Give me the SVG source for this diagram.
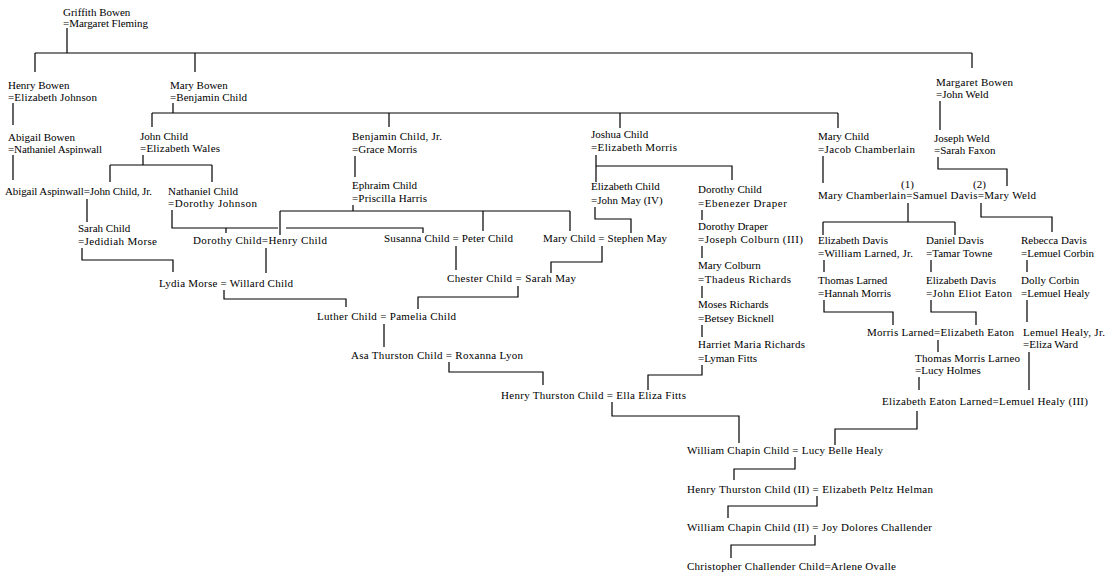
<svg xmlns="http://www.w3.org/2000/svg" width="1115" height="580" viewBox="0 0 1115 580">
<style>
text{font-family:"Liberation Serif","Times New Roman",serif;font-size:11px;fill:#000}
.c path{fill:none;stroke:#000;stroke-width:1.2}
</style>
<rect width="1115" height="580" fill="#fff"/>
<g class="c" id="connectors">
<path d="M67,28V53M35,53H972M35,53V72M195,53V72M972,53V68"/>
<path d="M13,103V125M13,155V180M87,199V222M82,248V260H173V272M224,290V299H346V307"/>
<path d="M173,103V113M152,113H838M152,113V127M389,113V127M620,113V128M838,113V128"/>
<path d="M143,155V165M110,165H212M110,165V182M212,165V182"/>
<path d="M172,210V228H278M286,228H423V233M226,228V233"/>
<path d="M355,156V177M353,205V211M280,211H570M280,211V235M483,211V231M570,211V231"/>
<path d="M266,248V273M456,246V270M602,246V262H551V273M518,286V297H418V309"/>
<path d="M384,324V347M449,362V372H543V385M612,402V416H739V443M702,365V375H648V390"/>
<path d="M596,155V182M596,166H732V180M595,207V219H631V233"/>
<path d="M702,210V220M702,246V258M702,286V298M702,325V337"/>
<path d="M823,156V183M908,203V222M823,222H955M823,222V235M955,222V235M981,203V217H1052V232"/>
<path d="M940,101V130M938,157V169H1007V186"/>
<path d="M824,260V272M824,300V312H893V325M931,260V272M931,300V312H976V325M938,340V352M919,377V390"/>
<path d="M1027,260V272M1027,300V322M1029,352V390M917,411V429H835V445"/>
<path d="M795,457V469H734V480M817,496V506H728V518M815,535V545H731V558"/>
</g>
<g id="griffith"><text x="63" y="16">Griffith Bowen</text><text x="63" y="27" textLength="85">=Margaret Fleming</text></g>
<g id="henry-bowen"><text x="8" y="89">Henry Bowen</text><text x="8" y="101" textLength="89">=Elizabeth Johnson</text></g>
<g id="abigail-bowen"><text x="8" y="141">Abigail Bowen</text><text x="8" y="153" textLength="94">=Nathaniel Aspinwall</text></g>
<g id="abigail-aspinwall"><text x="5" y="195" textLength="147">Abigail Aspinwall=John Child, Jr.</text></g>
<g id="sarah-child"><text x="78" y="232">Sarah Child</text><text x="78" y="245" textLength="79">=Jedidiah Morse</text></g>
<g id="lydia-morse"><text x="159" y="287" textLength="134">Lydia Morse = Willard Child</text></g>
<g id="mary-bowen"><text x="170" y="89">Mary Bowen</text><text x="170" y="101" textLength="77">=Benjamin Child</text></g>
<g id="john-child"><text x="140" y="140">John Child</text><text x="140" y="152" textLength="80">=Elizabeth Wales</text></g>
<g id="nathaniel-child"><text x="168" y="195">Nathaniel Child</text><text x="168" y="207" textLength="89">=Dorothy Johnson</text></g>
<g id="dorothy-henry"><text x="193" y="244" textLength="134">Dorothy Child=Henry Child</text></g>
<g id="benjamin-jr"><text x="352" y="140" textLength="90">Benjamin Child, Jr.</text><text x="352" y="153">=Grace Morris</text></g>
<g id="ephraim"><text x="352" y="189">Ephraim Child</text><text x="352" y="202" textLength="75">=Priscilla Harris</text></g>
<g id="susanna"><text x="384" y="242" textLength="129">Susanna Child = Peter Child</text></g>
<g id="mary-stephen"><text x="543" y="242" textLength="124">Mary Child = Stephen May</text></g>
<g id="chester"><text x="447" y="282" textLength="129">Chester Child = Sarah May</text></g>
<g id="luther"><text x="317" y="320" textLength="139">Luther Child = Pamelia Child</text></g>
<g id="asa"><text x="351" y="359" textLength="172">Asa Thurston Child = Roxanna Lyon</text></g>
<g id="henry-thurston"><text x="501" y="399" textLength="185">Henry Thurston Child = Ella Eliza Fitts</text></g>
<g id="joshua"><text x="591" y="138">Joshua Child</text><text x="591" y="151" textLength="86">=Elizabeth Morris</text></g>
<g id="elizabeth-child"><text x="591" y="190">Elizabeth Child</text><text x="591" y="204">=John May (IV)</text></g>
<g id="dorothy-child"><text x="698" y="193">Dorothy Child</text><text x="698" y="207" textLength="89">=Ebenezer Draper</text></g>
<g id="dorothy-draper"><text x="698" y="230">Dorothy Draper</text><text x="698" y="243" textLength="105">=Joseph Colburn (III)</text></g>
<g id="mary-colburn"><text x="698" y="269">Mary Colburn</text><text x="698" y="283" textLength="93">=Thadeus Richards</text></g>
<g id="moses"><text x="698" y="308">Moses Richards</text><text x="698" y="322">=Betsey Bicknell</text></g>
<g id="harriet"><text x="698" y="348" textLength="107">Harriet Maria Richards</text><text x="698" y="362">=Lyman Fitts</text></g>
<g id="mary-child-jacob"><text x="818" y="140">Mary Child</text><text x="818" y="153" textLength="97">=Jacob Chamberlain</text></g>
<g id="samuel-davis"><text x="901" y="188">(1)</text><text x="973" y="188">(2)</text><text x="818" y="199" textLength="218">Mary Chamberlain=Samuel Davis=Mary Weld</text></g>
<g id="margaret-bowen"><text x="936" y="86" textLength="77">Margaret Bowen</text><text x="936" y="98">=John Weld</text></g>
<g id="joseph-weld"><text x="934" y="142">Joseph Weld</text><text x="934" y="154">=Sarah Faxon</text></g>
<g id="elizabeth-davis"><text x="818" y="244">Elizabeth Davis</text><text x="818" y="257" textLength="95">=William Larned, Jr.</text></g>
<g id="thomas-larned"><text x="818" y="284">Thomas Larned</text><text x="818" y="297">=Hannah Morris</text></g>
<g id="daniel-davis"><text x="926" y="244">Daniel Davis</text><text x="926" y="257">=Tamar Towne</text></g>
<g id="elizabeth-davis-2"><text x="926" y="284">Elizabeth Davis</text><text x="926" y="297" textLength="86">=John Eliot Eaton</text></g>
<g id="morris-larned"><text x="867" y="336" textLength="147">Morris Larned=Elizabeth Eaton</text></g>
<g id="thomas-morris"><text x="915" y="362" textLength="105">Thomas Morris Larneo</text><text x="915" y="374">=Lucy Holmes</text></g>
<g id="elizabeth-eaton"><text x="882" y="405" textLength="206">Elizabeth Eaton Larned=Lemuel Healy (III)</text></g>
<g id="rebecca"><text x="1021" y="244">Rebecca Davis</text><text x="1021" y="257">=Lemuel Corbin</text></g>
<g id="dolly"><text x="1021" y="284">Dolly Corbin</text><text x="1021" y="297">=Lemuel Healy</text></g>
<g id="lemuel-jr"><text x="1023" y="336" textLength="82">Lemuel Healy, Jr.</text><text x="1023" y="348">=Eliza Ward</text></g>
<g id="william-chapin"><text x="687" y="454" textLength="196">William Chapin Child = Lucy Belle Healy</text></g>
<g id="henry-thurston-2"><text x="687" y="493" textLength="246">Henry Thurston Child (II) = Elizabeth Peltz Helman</text></g>
<g id="william-chapin-2"><text x="687" y="531" textLength="245">William Chapin Child (II) = Joy Dolores Challender</text></g>
<g id="christopher"><text x="687" y="570" textLength="209">Christopher Challender Child=Arlene Ovalle</text></g>
</svg>
